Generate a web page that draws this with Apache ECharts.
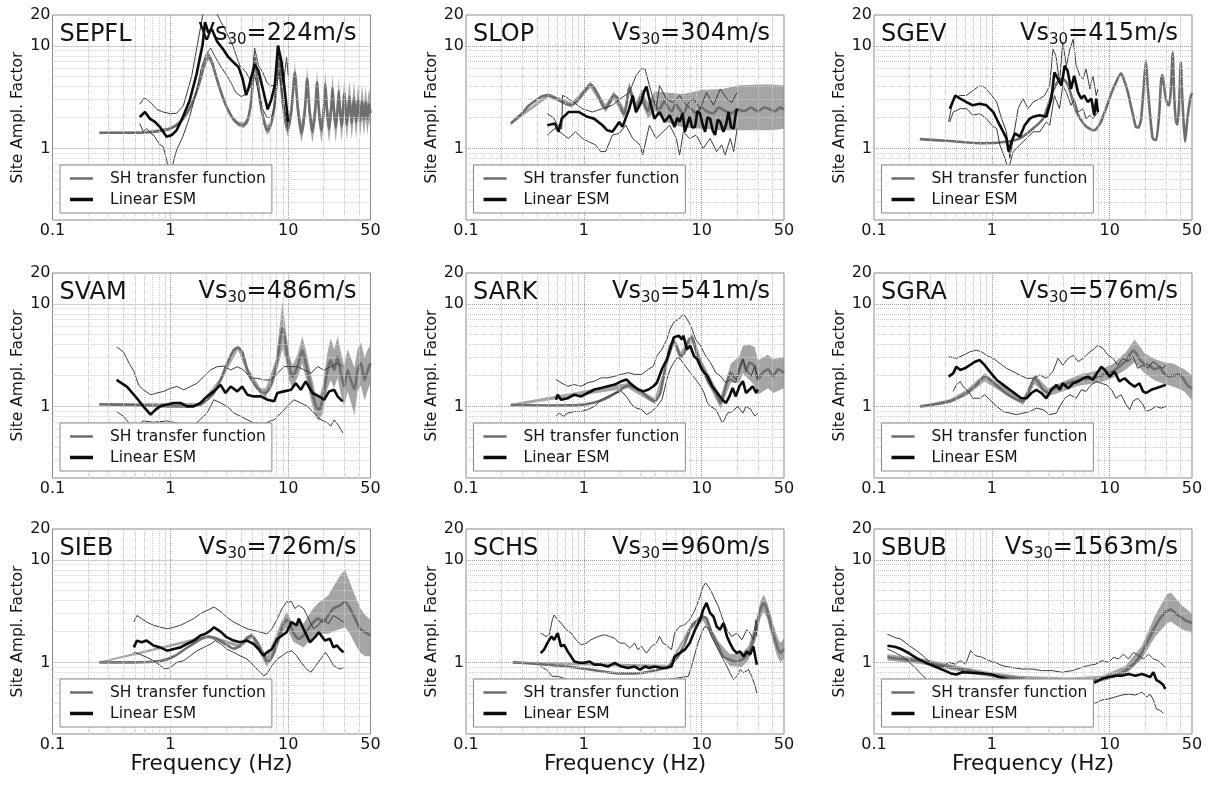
<!DOCTYPE html>
<html>
<head>
<meta charset="utf-8">
<script src="https://cdn.jsdelivr.net/npm/echarts@6.0.0/dist/echarts.min.js"></script>
<style>
  html, body { margin: 0; padding: 0; background: #fff; }
  #chart { width: 1208px; height: 785px; }
</style>
</head>
<body>
<div id="chart"></div>
<script>
// ---- stations and site parameters ----
const stations = ['SEPFL', 'SLOP', 'SGEV', 'SVAM', 'SARK', 'SGRA', 'SIEB', 'SCHS', 'SBUB'];
const vs30 = [224, 304, 415, 486, 541, 576, 726, 960, 1563];
const seriesNames = ['SH transfer function', 'Linear ESM'];

// gridline positions (log decades)
const xMinorGrid = [0.2, 0.3, 0.4, 0.5, 0.6, 0.7, 0.8, 0.9, 2, 3, 4, 5, 6, 7, 8, 9, 20, 30, 40];
const xMajorGrid = [1, 10];
const yMinorGrid = [0.3, 0.4, 0.5, 0.6, 0.7, 0.8, 0.9, 2, 3, 4, 5, 6, 7, 8, 9];
const yMajorGrid = [1, 10];

// ---- SEPFL ----
const sepflSH = [[0.25,1.42],[0.4,1.42],[0.6,1.43],[0.8,1.47],[1.0,1.56],[1.2,1.78],[1.4,2.25],[1.6,3.1],[1.8,4.7],[1.95,6.6],[2.1,8.0],[2.25,7.0],[2.45,5.0],[2.7,3.5],[3.0,2.55],[3.4,1.95],[3.8,1.72],[4.2,1.68],[4.5,1.85],[4.8,2.6],[5.0,4.2],[5.2,7.8],[5.45,5.0],[5.8,2.8],[6.2,1.9],[6.6,1.5],[7.0,1.6],[7.5,2.2],[7.9,3.8],[8.3,7.5],[8.7,4.2],[9.2,2.3],[9.85,1.5],[10.6,2.2],[11.4,5.5],[12.1,2.4],[12.95,1.4],[13.8,2.2],[14.5,4.8],[15.2,2.3],[16.05,1.45],[16.9,2.2],[17.6,4.4],[18.3,2.2],[19.15,1.5],[20.0,2.2],[20.7,4.2],[21.4,2.3],[22.25,1.55],[23.1,2.3],[23.8,3.9],[24.5,2.3],[25.35,1.6],[26.2,2.3],[26.9,3.6],[27.6,2.3],[28.45,1.65],[30,3.4],[31.55,1.7],[33.1,3.2],[34.65,1.75],[36.2,3.1],[37.75,1.8],[39.3,3.0],[40.85,1.85],[42.4,2.9],[43.95,1.9],[45.5,2.8],[47.05,1.95],[48.6,2.7],[50,2.2]];
const sepflBand = [[0.25,1.39,1.45],[0.6,1.4,1.46],[1.0,1.51,1.61],[1.2,1.72,1.85],[1.4,2.15,2.35],[1.6,2.95,3.3],[1.8,4.4,5.0],[1.95,6.1,7.1],[2.1,7.3,8.8],[2.25,6.4,7.6],[2.45,4.6,5.4],[2.7,3.25,3.75],[3.0,2.4,2.7],[3.4,1.85,2.05],[3.8,1.63,1.82],[4.2,1.58,1.8],[4.5,1.72,2.0],[4.8,2.35,2.9],[5.0,3.7,4.8],[5.2,6.6,9.6],[5.45,4.3,5.8],[5.8,2.5,3.2],[6.2,1.72,2.1],[6.6,1.35,1.68],[7.0,1.45,1.78],[7.5,1.95,2.5],[7.9,3.3,4.4],[8.3,6.3,9.0],[8.7,3.6,4.9],[9.2,2.0,2.65],[9.85,1.3,1.75],[10.6,1.8,2.7],[11.4,4.2,7.0],[12.1,1.9,3.0],[12.95,1.12,1.75],[13.8,1.7,2.8],[14.5,3.5,6.3],[15.2,1.8,2.9],[16.05,1.12,1.85],[16.9,1.7,2.8],[17.6,3.2,5.9],[18.3,1.7,2.8],[19.15,1.12,1.95],[20.0,1.65,2.85],[20.7,3.0,5.7],[21.4,1.7,3.0],[22.25,1.12,2.1],[23.1,1.7,3.0],[23.8,2.8,5.3],[24.5,1.7,3.0],[25.35,1.12,2.2],[26.2,1.7,3.0],[26.9,2.5,5.0],[27.6,1.7,3.0],[28.45,1.15,2.3],[30,2.4,4.8],[31.55,1.18,2.4],[33.1,2.25,4.6],[34.65,1.2,2.5],[36.2,2.15,4.5],[37.75,1.25,2.55],[39.3,2.1,4.3],[40.85,1.3,2.6],[42.4,2.0,4.2],[43.95,1.32,2.7],[45.5,1.95,4.0],[47.05,1.35,2.75],[48.6,1.9,3.9],[50,1.5,3.0]];
const sepflESM = [[0.55,2.02],[0.61,2.26],[0.67,1.95],[0.74,1.81],[0.81,1.63],[0.87,1.45],[0.93,1.3],[1.03,1.35],[1.13,1.5],[1.28,2.03],[1.46,2.93],[1.67,5.3],[1.88,10.3],[1.97,17],[2.1,13.5],[2.25,14.5],[2.5,11],[2.8,9.3],[3.1,7.8],[3.4,7.0],[3.8,6.2],[4.1,4.8],[4.4,3.3],[4.65,4.0],[4.9,5.1],[5.2,6.6],[5.6,5.7],[6.1,3.8],[6.7,2.4],[7.2,3.0],[7.7,4.1],[8.2,10],[8.8,6.9],[9.4,3.5],[10,1.8]];
const sepflESMhi = [[0.55,2.7],[0.6,3.1],[0.65,2.95],[0.69,2.75],[0.77,2.4],[0.87,2.26],[1.0,2.18],[1.13,2.2],[1.29,2.6],[1.52,5.1],[1.73,11.6],[1.9,21],[2.1,24],[2.4,22],[2.7,17],[3.0,13.5],[3.4,10],[3.7,7.5],[3.9,6.4],[4.4,5.5],[4.8,4.6],[5.0,5.6],[5.2,9.5],[5.6,6.4],[6.1,5.5],[6.6,4.4],[7.0,4.1],[7.9,4.1],[8.3,10.2],[8.7,5.5],[9.1,4.2],[9.7,7.7],[10.0,5.2]];
const sepflESMlo = [[0.55,1.75],[0.59,1.45],[0.63,1.56],[0.68,1.4],[0.72,1.35],[0.82,1.08],[0.87,1.04],[0.93,0.77],[0.96,0.65],[1.02,0.6],[1.08,0.8],[1.13,0.96],[1.28,1.31],[1.46,2.03],[1.67,3.66],[1.84,6.16],[2.02,8.3],[2.2,9.5],[2.45,7.5],[2.7,6.2],[3.0,5.2],[3.3,4.3],[3.6,3.5],[4.0,3.2],[4.4,3.4],[4.8,4.0],[5.2,5.2],[5.6,3.5],[6.1,2.4],[6.6,2.0],[7.2,2.0],[7.7,2.6],[8.1,4.5],[8.4,5.5],[8.8,3.8],[9.4,2.3],[10,1.6]];

// ---- SLOP ----
const slopSH = [[0.24,1.75],[0.3,2.2],[0.34,2.6],[0.4,3.0],[0.45,3.25],[0.5,3.3],[0.57,3.1],[0.65,2.85],[0.72,2.7],[0.79,2.65],[0.88,2.9],[1.0,3.5],[1.08,4.0],[1.14,4.2],[1.22,3.9],[1.34,3.2],[1.45,2.6],[1.53,2.45],[1.65,2.8],[1.8,3.3],[1.92,3.15],[2.05,2.5],[2.2,2.15],[2.32,2.8],[2.43,4.0],[2.55,3.3],[2.77,2.45],[2.95,2.9],[3.1,3.3],[3.3,2.6],[3.5,2.3],[3.7,2.9],[3.9,3.0],[4.2,2.4],[4.5,2.5],[4.8,2.9],[5.2,2.5],[5.6,2.3],[6.0,2.7],[6.5,2.4],[7.0,2.2],[7.6,2.6],[8.2,2.4],[9.0,2.2],[10,2.5],[11,2.3],[12.5,2.2],[14,2.5],[16,2.3],[18,2.2],[20,2.4],[23,2.3],[26,2.5],[30,2.3],[34,2.5],[38,2.4],[42,2.3],[46,2.5],[50,2.4]];
const slopBand = [[0.24,1.7,1.8],[0.5,3.15,3.45],[0.79,2.5,2.8],[1.14,3.9,4.5],[1.53,2.25,2.7],[1.8,3.0,3.6],[2.2,1.95,2.45],[2.43,3.5,4.5],[2.77,2.15,2.8],[3.1,2.8,3.8],[3.5,1.95,2.8],[4.0,2.3,3.6],[5.0,1.8,3.5],[7,1.6,3.4],[10,1.55,3.7],[15,1.5,3.8],[20,1.5,4.1],[30,1.5,4.2],[40,1.5,4.2],[50,1.55,4.1]];
const slopESM = [[0.49,1.68],[0.57,1.75],[0.61,1.45],[0.65,1.95],[0.74,2.26],[0.91,2.26],[1.07,2.03],[1.22,1.95],[1.44,1.68],[1.58,1.5],[1.75,1.45],[2.0,1.81],[2.13,1.62],[2.43,2.44],[2.6,3.28],[2.77,2.26],[3.06,2.8],[3.25,3.6],[3.4,4.0],[3.6,3.05],[3.97,1.95],[4.4,2.26],[4.85,1.81],[5.35,2.1],[5.9,1.62],[6.2,2.0],[6.5,1.81],[6.9,2.2],[7.2,1.45],[7.9,2.03],[8.3,1.6],[8.8,1.62],[9.2,2.3],[9.7,2.18],[10.2,1.7],[10.7,1.45],[11.2,2.0],[11.8,1.95],[12.4,1.5],[13,1.35],[13.7,1.9],[14.4,1.81],[15.3,1.45],[16.1,1.7],[16.9,2.26],[17.8,1.6],[18.7,1.56],[19.4,2.1],[20,2.44]];
const slopESMhi = [[0.49,2.18],[0.55,2.0],[0.6,1.7],[0.65,1.55],[0.66,3.3],[0.74,3.05],[0.85,2.73],[0.97,2.44],[1.18,2.26],[1.44,2.44],[1.75,2.63],[2.0,3.0],[2.43,3.5],[2.77,5.1],[3.06,5.95],[3.3,6.0],[3.6,4.1],[4.1,2.44],[4.4,4.1],[5.0,3.05],[5.7,2.8],[6.5,3.28],[7.4,2.63],[8.5,3.05],[9.7,2.44],[11,3.5],[12.6,2.63],[14.4,3.8],[16.4,3.05],[18,2.8],[20,3.5]];
const slopESMlo = [[0.49,1.35],[0.57,1.56],[0.65,1.4],[0.74,1.25],[0.85,1.45],[0.97,1.25],[1.1,1.16],[1.26,1.08],[1.39,0.93],[1.53,0.93],[1.75,1.35],[2.0,1.4],[2.27,1.68],[2.6,1.25],[3.0,1.08],[3.16,0.86],[3.6,1.68],[4.1,1.25],[4.7,1.45],[5.35,1.68],[6.1,1.25],[6.5,0.86],[7.0,1.45],[7.9,1.25],[9.0,1.35],[10.3,1.0],[11.8,1.25],[13.4,0.93],[14.8,1.08],[15.8,0.86],[17.5,1.25],[18.7,0.93],[20,1.56]];

// ---- SGEV ----
const sgevSH = [[0.245,1.23],[0.44,1.18],[0.84,1.12],[1.33,1.16],[1.73,1.25],[2.24,1.56],[2.72,1.95],[3.0,2.6],[3.3,3.6],[3.65,4.5],[4.0,4.8],[4.4,4.2],[4.8,3.1],[5.2,2.3],[6.1,1.7],[6.8,1.55],[7.4,1.5],[8.3,1.75],[9.3,2.44],[10.3,3.4],[11,4.1],[12.5,5.4],[13.3,4.6],[14.3,3.5],[15.8,2.1],[16.7,1.62],[17.6,1.6],[18.5,1.95],[19.4,3.8],[20.3,7.2],[21.0,4.2],[21.8,2.44],[23.2,1.25],[24.8,1.2],[26.4,2.26],[27.3,4.5],[28,5.2],[29,4.0],[30,3.05],[31,2.7],[32,2.63],[33,3.6],[34.3,8.6],[35.4,3.05],[36.6,1.81],[37.7,1.7],[39,3.0],[40.2,6.9],[41.2,3.4],[42.3,1.9],[43.7,1.16],[45.7,1.95],[47.5,2.7],[49.4,3.4],[50,3.3]];
const sgevBand = [];
const sgevESM = [[0.44,2.44],[0.49,3.28],[0.54,3.05],[0.61,2.83],[0.69,2.63],[0.79,2.73],[0.9,2.63],[1.03,2.26],[1.13,1.81],[1.25,1.45],[1.33,1.25],[1.39,0.93],[1.47,1.16],[1.57,1.4],[1.73,1.3],[1.9,1.68],[2.1,1.95],[2.24,2.03],[2.55,2.1],[2.9,2.03],[3.2,3.05],[3.4,5.5],[3.65,4.75],[3.9,4.1],[4.15,6.4],[4.4,5.7],[4.7,3.8],[5.0,5.1],[5.4,3.5],[5.75,3.05],[6.1,3.28],[6.5,2.83],[7.0,3.05],[7.4,2.1],[7.7,3.05],[7.95,2.26]];
const sgevESMhi = [[0.43,1.81],[0.47,3.05],[0.54,3.28],[0.61,3.28],[0.69,3.66],[0.79,4.1],[0.87,3.95],[1.0,3.28],[1.1,2.83],[1.21,1.95],[1.33,1.45],[1.42,0.8],[1.52,1.25],[1.67,2.44],[1.84,3.05],[2.03,2.44],[2.24,2.83],[2.55,3.05],[2.81,3.28],[3.1,4.1],[3.3,9.3],[3.5,8.0],[3.75,4.4],[4.0,10.8],[4.3,6.4],[4.6,9.3],[4.9,11.6],[5.2,6.4],[5.6,5.1],[5.95,4.75],[6.3,5.95],[6.8,3.8],[7.2,5.1],[7.7,3.28],[7.95,3.8]];
const sgevESMlo = [[0.44,1.81],[0.47,2.26],[0.54,2.44],[0.61,2.44],[0.69,2.1],[0.79,2.18],[0.9,1.95],[1.0,1.68],[1.1,1.56],[1.17,1.08],[1.29,0.8],[1.38,0.62],[1.52,0.93],[1.73,1.08],[1.97,1.25],[2.24,1.45],[2.55,1.45],[2.9,1.81],[3.1,1.68],[3.4,3.28],[3.75,2.44],[4.0,4.1],[4.3,3.5],[4.7,2.63],[5.0,3.05],[5.4,2.26],[5.95,2.44],[6.3,1.95],[6.8,2.1],[7.2,1.95],[7.95,2.26]];

// ---- SVAM ----
const svamSH = [[0.25,1.05],[0.49,1.03],[0.94,1.0],[1.39,1.0],[1.8,1.04],[2.05,1.16],[2.34,1.35],[2.67,1.81],[3.04,2.63],[3.46,3.55],[3.75,3.75],[4.08,3.4],[4.5,2.26],[5.1,1.68],[5.85,1.4],[6.45,1.35],[7.1,1.56],[7.9,2.44],[8.4,3.8],[8.95,5.95],[9.5,4.1],[10.2,2.44],[10.9,1.95],[12,2.44],[13.2,3.55],[14.1,2.63],[15.6,1.56],[17.2,1.0],[18.3,0.93],[19.6,1.16],[21.6,2.26],[23,2.83],[24.6,2.26],[26.3,3.05],[28,2.1],[29.9,1.56],[32,2.26],[34,1.81],[36.6,1.45],[38.8,2.26],[41.5,2.63],[44.5,1.81],[47.5,2.26],[50,2.63]];
const svamBand = [[0.25,1.02,1.08],[1.8,1.0,1.08],[2.67,1.72,1.9],[3.75,3.55,3.95],[4.5,2.1,2.42],[5.85,1.3,1.5],[6.45,1.22,1.5],[7.9,2.1,2.9],[8.95,3.6,10.5],[9.5,2.9,5.8],[10.2,1.8,3.2],[10.9,1.5,2.5],[12,1.9,3.2],[13.2,2.6,4.8],[14.1,1.9,3.6],[15.6,1.15,2.1],[17.2,0.78,1.3],[18.3,0.72,1.2],[19.6,0.85,1.6],[21.6,1.5,3.4],[23,1.8,4.6],[24.6,1.5,3.6],[26.3,1.9,4.8],[28,1.3,3.4],[29.9,1.0,2.5],[32,1.4,3.6],[34,1.1,3.0],[36.6,0.82,2.4],[38.8,1.4,3.6],[41.5,1.6,4.2],[44.5,1.15,3.0],[47.5,1.45,3.6],[50,1.7,4.0]];
const svamESM = [[0.35,1.81],[0.43,1.55],[0.52,1.2],[0.59,1.0],[0.68,0.83],[0.75,0.93],[0.82,1.0],[0.94,1.04],[1.07,1.08],[1.22,1.08],[1.39,1.0],[1.58,1.0],[1.8,1.08],[2.05,1.25],[2.34,1.4],[2.67,1.62],[2.94,1.35],[3.25,1.56],[3.7,1.4],[4.08,1.56],[4.5,1.3],[5.1,1.25],[5.85,1.25],[6.7,1.16],[7.6,1.12],[8.1,1.35],[9.2,1.4],[10.6,1.45],[11.6,1.68],[12.8,1.45],[14.1,1.75],[16.1,1.35],[18.3,1.25],[20.2,1.16],[22.3,1.4],[24.6,1.45],[26.3,1.25],[29,1.12]];
const svamESMhi = [[0.35,3.8],[0.4,3.4],[0.45,2.6],[0.49,2.2],[0.54,1.6],[0.59,1.45],[0.68,1.3],[0.77,1.35],[0.88,1.4],[1.0,1.5],[1.14,1.56],[1.3,1.45],[1.48,1.56],[1.69,1.68],[1.92,1.95],[2.19,2.26],[2.5,2.44],[2.85,2.47],[3.25,2.26],[3.7,2.44],[4.2,2.26],[4.8,1.88],[5.5,1.88],[6.2,1.81],[7.1,1.81],[8.1,2.1],[9.2,2.44],[10.6,2.44],[12,2.44],[13.7,2.26],[15.6,2.1],[17.8,2.44],[20.2,2.26],[23,2.44],[26.3,2.63],[29,2.44]];
const svamESMlo = [[0.35,0.89],[0.4,0.8],[0.44,0.7],[0.5,0.62],[0.59,0.72],[0.72,0.7],[0.94,0.72],[1.2,0.68],[1.6,0.66],[2.05,0.86],[2.34,1.16],[2.67,1.08],[3.04,1.0],[3.46,0.86],[3.95,0.8],[4.5,0.74],[5.1,0.69],[6.2,0.68],[7.6,0.74],[8.7,0.86],[9.85,1.0],[11.2,1.16],[12.8,1.08],[14.6,1.0],[16.6,0.86],[19,0.74],[21.6,0.69],[23,0.64],[24.6,0.74],[27,0.64],[29,0.55]];

// ---- SARK ----
const sarkSH = [[0.24,1.03],[0.53,1.02],[1.0,1.04],[1.4,1.14],[1.83,1.33],[2.23,1.55],[2.38,1.6],[2.7,1.52],[3.1,1.38],[3.6,1.2],[4.0,1.12],[4.45,1.35],[4.9,2.3],[5.4,3.9],[5.8,4.35],[6.2,3.75],[6.6,3.1],[7.0,3.2],[7.3,3.6],[7.8,4.5],[8.3,4.7],[8.8,3.8],[9.3,3.0],[10,2.47],[11.5,1.7],[13.2,1.35],[14.5,1.08],[16,1.57],[17.7,2.13],[19.5,1.83],[20.9,2.3],[22.4,2.9],[23.8,2.2],[25.5,2.67],[28.2,2.47],[30,1.83],[33,2.13],[36.6,2.3],[40.4,1.97],[44.5,2.3],[50,2.13]];
const sarkBand = [[0.24,1.0,1.06],[2.38,1.5,1.7],[4.0,1.05,1.2],[5.8,4.0,4.7],[6.6,2.8,3.4],[8.3,4.2,5.2],[10,2.2,2.8],[14.5,0.95,1.25],[17.7,1.7,2.6],[20.9,1.7,3.1],[22.4,2.1,3.9],[25.5,1.8,4.0],[28.2,1.6,3.8],[30,1.3,2.8],[36.6,1.5,3.2],[40.4,1.35,2.9],[50,1.5,3.0]];
const sarkESM = [[0.58,1.16],[0.6,1.3],[0.64,1.16],[0.73,1.2],[0.83,1.3],[0.95,1.25],[1.08,1.35],[1.23,1.46],[1.4,1.51],[1.6,1.57],[1.83,1.63],[2.09,1.76],[2.3,1.83],[2.55,1.63],[2.9,1.46],[3.2,1.4],[3.54,1.46],[3.9,1.57],[4.17,1.7],[4.6,2.3],[5.07,2.87],[5.4,3.6],[5.8,4.7],[6.4,4.9],[6.8,4.5],[7.0,4.9],[7.5,3.6],[8.0,3.9],[8.6,3.1],[9.2,2.87],[10,2.3],[11.2,1.97],[12.3,1.57],[13.6,1.35],[15,1.16],[16.1,1.08],[17.2,1.25],[18.3,1.51],[19.5,1.25],[20.9,1.57],[22.4,1.76],[23.8,1.35],[25.5,1.46],[27.2,1.57],[29,1.35],[30,1.46]];
const sarkESMhi = [[0.58,1.83],[0.64,1.7],[0.73,1.57],[0.83,1.63],[0.95,1.57],[1.08,1.7],[1.23,1.76],[1.4,1.9],[1.6,1.9],[1.83,1.97],[2.09,2.05],[2.38,2.13],[2.7,2.05],[3.1,2.05],[3.54,2.3],[3.9,2.47],[4.17,3.1],[4.6,3.6],[5.07,4.5],[5.4,5.67],[5.8,6.6],[6.4,7.1],[6.8,7.7],[7.2,7.7],[7.8,6.6],[8.3,5.67],[8.9,4.5],[9.8,3.9],[10.8,3.1],[11.9,2.67],[13.2,2.13],[14.5,1.97],[16,1.7],[17.7,1.83],[19.5,1.7],[20.9,2.3],[22.4,2.87],[23.8,2.3],[26.3,1.97],[28.2,2.47],[30,1.83]];
const sarkESMlo = [[0.58,0.8],[0.62,0.86],[0.67,0.8],[0.73,0.86],[0.83,0.89],[0.95,0.89],[1.08,0.93],[1.23,1.0],[1.4,1.16],[1.6,1.25],[1.83,1.35],[2.09,1.4],[2.3,1.25],[2.55,1.04],[2.8,0.96],[3.1,0.93],[3.4,0.83],[3.78,0.89],[4.17,1.0],[4.6,1.16],[5.07,1.83],[5.4,2.3],[5.8,2.67],[6.2,3.0],[6.6,2.87],[7.3,2.47],[8.0,2.13],[8.9,1.83],[9.8,1.57],[10.5,1.35],[11.2,1.08],[11.9,1.0],[13.2,0.93],[14.1,0.8],[15,0.69],[15.6,0.74],[16.6,0.86],[18.3,0.89],[20.2,1.0],[22.4,0.86],[23.8,1.0],[26.3,0.93],[28.2,0.8],[30,0.86]];

// ---- SGRA ----
const sgraSH = [[0.245,1.0],[0.32,1.04],[0.44,1.12],[0.61,1.35],[0.74,1.62],[0.87,1.95],[0.95,1.85],[1.1,1.6],[1.33,1.33],[1.62,1.17],[1.84,1.12],[2.03,1.35],[2.31,1.88],[2.5,1.7],[2.72,1.45],[3.0,1.38],[3.42,1.5],[4.0,1.6],[4.6,1.72],[5.55,1.8],[6.8,1.88],[8.2,1.95],[9.4,2.1],[10.7,2.2],[12.1,2.45],[13.8,2.8],[15.8,3.5],[16.8,3.3],[17.9,2.9],[19.8,2.6],[21.8,2.5],[24,2.3],[26.4,2.4],[29,2.1],[31.9,1.95],[35,2.0],[38.9,2.05],[43,1.8],[45.7,1.6],[50,1.5]];
const sgraBand = [[0.245,0.98,1.02],[0.44,1.08,1.17],[0.61,1.27,1.45],[0.87,1.75,2.1],[1.1,1.48,1.7],[1.84,1.03,1.2],[2.31,1.65,2.05],[3.0,1.25,1.5],[5.55,1.6,2.05],[8.2,1.7,2.25],[10.7,1.9,2.6],[13.8,2.3,3.4],[16.3,2.7,4.5],[19.8,2.1,3.3],[24,1.8,2.9],[29,1.65,2.7],[35,1.55,2.6],[43,1.4,2.3],[50,1.15,2.0]];
const sgraESM = [[0.43,1.95],[0.47,2.1],[0.5,2.44],[0.54,2.26],[0.59,2.35],[0.65,2.52],[0.72,2.73],[0.79,2.83],[0.87,2.52],[0.96,2.18],[1.1,1.81],[1.25,1.62],[1.42,1.45],[1.62,1.3],[1.78,1.2],[1.97,1.2],[2.17,1.35],[2.39,1.45],[2.63,1.35],[2.9,1.2],[3.2,1.45],[3.53,1.62],[3.77,1.45],[4.0,1.68],[4.44,1.5],[4.9,1.68],[5.4,1.75],[5.95,1.88],[6.55,1.95],[7.2,1.81],[7.95,2.18],[8.5,2.44],[9.1,2.26],[10,1.95],[11,2.18],[12.1,1.75],[13.4,1.88],[14.8,1.68],[16.3,1.56],[17.9,1.68],[19.2,1.4],[20.4,1.35],[22.5,1.45],[24.7,1.5],[27.3,1.56],[30,1.62]];
const sgraESMhi = [[0.43,3.05],[0.5,2.94],[0.57,3.15],[0.65,3.4],[0.74,3.53],[0.82,3.4],[0.9,3.15],[1.03,2.94],[1.17,2.62],[1.33,2.35],[1.52,2.18],[1.73,2.02],[1.97,1.88],[2.24,1.88],[2.55,2.02],[2.9,1.88],[3.3,2.18],[3.65,2.94],[4.0,2.52],[4.44,2.94],[4.9,3.15],[5.4,2.73],[5.95,2.94],[6.8,3.4],[7.45,3.66],[7.95,3.95],[8.8,3.66],[9.7,3.15],[10.7,2.94],[11.7,2.52],[13,2.94],[14.3,2.73],[15.8,3.05],[17.3,2.35],[19.2,2.52],[21.1,2.35],[23.3,2.73],[25.6,2.52],[28.2,2.35],[30,2.52]];
const sgraESMlo = [[0.47,1.4],[0.5,1.62],[0.54,1.75],[0.57,1.56],[0.63,1.4],[0.69,1.2],[0.79,1.2],[0.87,1.3],[0.96,1.16],[1.1,1.0],[1.25,0.89],[1.42,0.86],[1.62,0.83],[1.84,0.86],[2.1,0.89],[2.39,0.96],[2.72,0.93],[3.1,0.83],[3.53,0.86],[3.77,1.0],[4.15,1.2],[4.6,1.3],[5.2,1.2],[5.75,1.45],[6.3,1.4],[6.95,1.62],[7.7,1.75],[8.5,1.68],[9.4,1.62],[10.4,1.45],[11.3,1.2],[12.5,1.3],[13.8,1.04],[14.8,0.93],[15.8,1.12],[17.3,1.2],[19.2,1.04],[20.4,0.89],[22.5,0.93],[24.7,1.0],[27.3,0.96],[30,1.0]];

// ---- SIEB ----
const siebSH = [[0.25,1.0],[0.49,1.0],[0.82,1.03],[1.07,1.14],[1.38,1.38],[1.8,1.68],[2.1,1.78],[2.5,1.7],[3.0,1.48],[3.45,1.36],[3.9,1.44],[4.47,1.74],[4.9,1.82],[5.4,1.6],[6.2,1.2],[6.6,1.02],[7.0,1.04],[7.8,1.35],[8.8,2.1],[9.1,2.35],[9.7,2.6],[10.3,2.45],[11,1.97],[12.2,1.7],[13.5,1.83],[14.9,2.13],[16.4,2.47],[18,2.67],[19.9,2.47],[21.9,2.87],[24.2,3.35],[27.5,3.6],[30.4,3.9],[33.5,3.35],[37,2.67],[40.8,2.13],[45,1.97],[50,1.83]];
const siebBand = [[0.25,0.98,1.02],[2.1,1.72,1.85],[3.9,1.38,1.5],[4.9,1.72,1.95],[6.6,0.9,1.15],[8.8,1.8,2.5],[9.7,2.2,3.1],[11,1.6,2.4],[13.5,1.4,2.4],[16.4,1.8,3.4],[18,1.9,3.8],[21.9,1.9,4.5],[24.2,2.0,5.5],[27.5,2.1,7.0],[30.4,2.2,8.0],[33.5,1.9,6.0],[37,1.5,4.5],[40.8,1.25,3.4],[45,1.15,2.9],[50,1.15,2.6]];
const siebESM = [[0.49,1.4],[0.52,1.63],[0.57,1.57],[0.63,1.63],[0.72,1.46],[0.82,1.4],[0.94,1.3],[1.07,1.35],[1.22,1.4],[1.38,1.51],[1.58,1.63],[1.8,1.83],[1.99,1.9],[2.2,2.05],[2.35,2.2],[2.7,1.97],[3.0,1.76],[3.45,1.63],[3.9,1.57],[4.47,1.63],[5.1,1.51],[5.6,1.35],[6.2,1.16],[6.6,1.25],[7.3,1.35],[8.1,1.7],[8.9,1.83],[9.7,1.97],[10.7,2.47],[11.8,2.3],[12.3,2.67],[13.9,1.97],[15.3,1.57],[16.9,1.76],[18.2,1.97],[20.5,1.63],[22.6,1.7],[24.2,1.4],[25.9,1.46],[27.5,1.35],[29.5,1.25]];
const siebESMhi = [[0.49,2.47],[0.52,2.87],[0.57,2.67],[0.63,2.47],[0.72,2.3],[0.82,2.2],[0.94,2.13],[1.07,2.2],[1.22,2.3],[1.38,2.47],[1.58,2.67],[1.8,2.99],[2.04,3.2],[2.35,3.47],[2.7,3.1],[3.0,2.77],[3.45,2.47],[3.9,2.3],[4.47,2.13],[5.1,2.05],[5.8,1.97],[6.6,1.9],[7.3,2.13],[8.1,2.67],[8.9,3.35],[9.7,3.9],[10.7,3.9],[11.4,3.35],[12.2,3.6],[13.5,3.35],[14.9,2.67],[16.4,2.13],[18,2.3],[19.9,2.67],[21.9,2.38],[24.2,2.87],[26.7,2.67],[29.5,2.47]];
const siebESMlo = [[0.49,1.25],[0.55,1.2],[0.63,1.12],[0.72,1.04],[0.82,0.93],[0.9,0.86],[1.0,0.89],[1.14,1.0],[1.3,1.04],[1.48,1.16],[1.69,1.3],[1.92,1.4],[2.2,1.51],[2.4,1.63],[2.7,1.51],[3.0,1.35],[3.45,1.25],[3.9,1.16],[4.47,1.08],[5.1,0.93],[5.6,0.83],[6.2,0.74],[6.6,0.77],[7.3,0.93],[8.1,1.08],[8.9,1.16],[9.7,1.25],[10.7,1.3],[11.8,1.16],[12.9,1.0],[14.3,0.86],[15.6,0.8],[17.2,0.93],[18.9,1.08],[20.8,1.25],[22.6,1.08],[24.2,0.93],[25.9,0.89],[27.5,0.86],[29.5,0.89]];

// ---- SCHS ----
const schsSH = [[0.25,1.0],[0.38,0.97],[0.73,0.91],[1.4,0.82],[1.95,0.78],[2.7,0.78],[3.75,0.82],[5.2,0.91],[6.3,1.14],[7.2,1.54],[8.2,2.24],[9.3,2.6],[10.3,2.76],[11.0,2.7],[12.2,1.93],[13.9,1.43],[15.3,1.14],[17.4,1.06],[19.2,1.02],[21.9,1.06],[25,1.23],[28.5,1.93],[31.5,3.26],[33.6,3.8],[35.9,3.26],[39.6,2.08],[43.7,1.43],[46.5,1.23],[50,1.35]];
const schsBand = [[0.25,0.98,1.02],[5.2,0.88,0.95],[8.2,2.1,2.4],[10.3,2.55,3.0],[13.9,1.3,1.6],[17.4,0.92,1.2],[21.9,0.9,1.22],[25,1.05,1.45],[28.5,1.6,2.35],[31.5,2.7,3.9],[33.6,3.1,4.6],[35.9,2.7,3.9],[39.6,1.7,2.6],[43.7,1.15,1.8],[46.5,1.0,1.55],[50,1.08,1.7]];
const schsESM = [[0.43,1.23],[0.46,1.33],[0.49,1.54],[0.53,1.79],[0.56,1.66],[0.6,1.93],[0.64,1.43],[0.68,1.48],[0.73,1.28],[0.78,1.14],[0.83,1.02],[0.92,0.99],[1.01,0.99],[1.12,1.02],[1.23,0.95],[1.4,0.95],[1.6,0.91],[1.83,0.99],[2.08,0.91],[2.37,0.88],[2.7,0.91],[3.0,0.85],[3.3,0.91],[3.6,0.88],[4.0,0.91],[4.55,0.88],[5.0,0.88],[5.55,0.91],[5.9,1.14],[6.5,1.23],[7.2,1.33],[7.9,1.54],[8.8,2.08],[9.7,2.6],[10.3,3.26],[11,3.8],[11.8,3.02],[12.6,2.8],[13.4,2.24],[14.3,2.08],[15.3,2.42],[16.4,1.79],[17.4,1.54],[18.6,1.33],[19.9,1.23],[21.2,1.28],[22.7,1.14],[24.2,1.28],[25.8,1.19],[27.5,1.43],[28.5,1.14],[29.4,0.95]];
const schsESMhi = [[0.43,1.93],[0.48,1.79],[0.51,1.86],[0.54,2.6],[0.56,2.9],[0.6,2.6],[0.64,2.42],[0.71,2.08],[0.78,1.93],[0.86,1.66],[0.95,1.48],[1.05,1.54],[1.15,1.66],[1.32,1.79],[1.5,1.86],[1.65,1.79],[1.83,1.72],[2.0,1.54],[2.22,1.54],[2.45,1.38],[2.7,1.54],[2.88,1.33],[3.08,1.43],[3.4,1.23],[3.75,1.43],[4.13,1.54],[4.4,1.79],[4.7,1.54],[5.0,1.48],[5.55,1.33],[5.9,1.93],[6.5,2.24],[7.2,2.33],[7.9,2.6],[8.8,3.26],[9.7,4.4],[10.3,5.5],[10.8,5.95],[11.4,5.5],[12.1,4.9],[13,4.08],[13.9,3.5],[14.8,2.8],[16.4,2.08],[18.0,1.79],[19.9,1.93],[21.9,1.66],[24.2,2.08],[25.8,1.93],[27.5,1.66],[28.8,2.6],[29.4,1.79]];
const schsESMlo = [[0.43,0.91],[0.48,0.85],[0.51,0.79],[0.54,0.73],[0.6,0.73],[0.8,0.66],[1.2,0.62],[2.0,0.6],[3.0,0.62],[4.5,0.66],[6.0,0.7],[7.7,0.73],[8.2,0.91],[8.8,1.23],[9.3,1.54],[10,1.93],[10.6,2.24],[11.4,2.16],[12.1,1.79],[13.4,1.43],[14.3,1.23],[15.3,1.06],[16.4,0.91],[17.4,0.79],[18.6,0.68],[19.9,0.73],[21.2,0.85],[22.7,0.79],[25,0.85],[26.6,0.73],[28.5,0.58],[29.4,0.5]];

// ---- SBUB ----
const sbubSH = [[0.13,1.12],[0.17,1.08],[0.24,1.04],[0.33,0.96],[0.46,0.89],[0.64,0.83],[0.88,0.77],[1.22,0.73],[1.69,0.7],[2.34,0.68],[3.25,0.67],[4.5,0.67],[6.2,0.67],[8.6,0.69],[11.2,0.74],[13.6,0.83],[16.5,1.0],[18.8,1.25],[21.4,1.68],[24.4,2.26],[27.8,2.83],[30.6,3.16],[33,3.28],[37.2,2.94],[41,2.73],[45,2.53],[50,2.44]];
const sbubBand = [[0.13,1.04,1.2],[0.24,0.97,1.11],[0.46,0.84,0.95],[0.88,0.73,0.82],[1.69,0.66,0.74],[4.5,0.63,0.71],[8.6,0.65,0.74],[13.6,0.76,0.92],[18.8,1.08,1.45],[24.4,1.8,2.9],[30.6,2.4,4.6],[33,2.5,4.8],[41,2.1,3.6],[50,1.95,3.0]];
const sbubESM = [[0.13,1.45],[0.15,1.42],[0.17,1.35],[0.2,1.22],[0.23,1.1],[0.27,1.0],[0.32,0.92],[0.38,0.85],[0.45,0.78],[0.5,0.76],[0.56,0.8],[0.7,0.79],[0.85,0.78],[1.0,0.76],[1.15,0.72],[1.4,0.68],[2.5,0.66],[4,0.64],[6,0.63],[7.6,0.64],[8.6,0.69],[9.8,0.72],[11.2,0.74],[12.7,0.74],[14.5,0.77],[16.5,0.74],[18.8,0.77],[20.7,0.74],[22.1,0.72],[23.5,0.8],[25,0.67],[26.8,0.64],[28.6,0.6],[29.6,0.55]];
const sbubESMhi = [[0.13,1.88],[0.15,1.75],[0.17,1.68],[0.2,1.45],[0.23,1.3],[0.26,1.16],[0.29,1.04],[0.33,0.93],[0.38,0.89],[0.43,1.0],[0.49,0.96],[0.54,1.04],[0.6,0.96],[0.66,1.3],[0.73,1.16],[0.83,1.12],[0.94,1.04],[1.07,1.0],[1.22,0.93],[1.49,0.89],[1.8,0.86],[2.2,0.86],[2.67,0.83],[3.25,0.83],[3.94,0.8],[4.79,0.83],[5.8,0.89],[6.6,0.93],[7.6,0.96],[8.6,1.04],[9.8,1.0],[10.8,1.12],[11.9,1.08],[13.1,1.2],[14.5,1.08],[15.9,1.25],[17.6,1.16],[19.4,1.08],[21.4,1.2],[23.5,1.08],[25.9,1.04],[28.6,0.93],[29.6,0.89]];
const sbubESMlo = [[0.13,1.35],[0.15,1.25],[0.17,1.16],[0.2,1.0],[0.23,0.86],[0.26,0.74],[0.29,0.66],[0.35,0.58],[0.5,0.55],[0.8,0.5],[1.5,0.46],[3,0.44],[5,0.42],[7.6,0.4],[8.6,0.43],[9.8,0.44],[11.2,0.46],[12.7,0.48],[14.5,0.49],[16.5,0.48],[18.8,0.51],[20.7,0.46],[22.1,0.49],[23.5,0.43],[25,0.35],[26.8,0.34],[28.6,0.32]];

// per-panel bundles: [SH curve, SH band, ESM, ESM upper, ESM lower]
const panelData = [
  [sepflSH, sepflBand, sepflESM, sepflESMhi, sepflESMlo],
  [slopSH, slopBand, slopESM, slopESMhi, slopESMlo],
  [sgevSH, sgevBand, sgevESM, sgevESMhi, sgevESMlo],
  [svamSH, svamBand, svamESM, svamESMhi, svamESMlo],
  [sarkSH, sarkBand, sarkESM, sarkESMhi, sarkESMlo],
  [sgraSH, sgraBand, sgraESM, sgraESMhi, sgraESMlo],
  [siebSH, siebBand, siebESM, siebESMhi, siebESMlo],
  [schsSH, schsBand, schsESM, schsESMhi, schsESMlo],
  [sbubSH, sbubBand, sbubESM, sbubESMhi, sbubESMlo]
];

// ---- layout ----
const W_CHART = 1208;
const colLeft = [52.5, 466, 874];
const rowTop = [15, 273, 529];
const plotW = 318, plotH = 205;
const FONT = 'DejaVu Sans';
const TXT = '#141414';

const SH_COLOR = '#6e6e6e';
const BAND_COLOR = 'rgba(140,140,140,0.78)';
const ESM_COLOR = '#0c0c0c';
const THIN_COLOR = '#3a3a3a';

// legend swatches: flat bars drawn at the legend item width
const SH_ICON = 'path://M0,0H92V10H0Z';
const ESM_ICON = 'path://M0,0H92V14H0Z';

// polygon between the lower and upper band limits, built from all rows at once
function bandItem(params, api) {
  if (params.dataIndexInside !== 0) return null;
  const n = params.dataInsideLength;
  const upper = [], lower = [];
  for (let k = 0; k < n; k++) {
    const f = api.value(0, k);
    upper.push(api.coord([f, api.value(2, k)]));
    lower.push(api.coord([f, api.value(1, k)]));
  }
  return {
    type: 'polygon',
    shape: { points: upper.concat(lower.reverse()) },
    style: { fill: BAND_COLOR, stroke: null },
    silent: true
  };
}

const grids = [], xAxes = [], yAxes = [], series = [], titles = [], legends = [];

panelData.forEach((p, i) => {
  const c = i % 3, r = Math.floor(i / 3);
  const left = colLeft[c], top = rowTop[r];
  const [sh, band, esm, esmHi, esmLo] = p;

  grids.push({
    left: left, top: top, width: plotW, height: plotH,
    show: true, borderColor: '#8a8a8a', borderWidth: 1, backgroundColor: '#fff',
    containLabel: false, outerBoundsMode: 'none'
  });

  xAxes.push({
    type: 'log', logBase: 10, gridIndex: i, min: 0.1, max: 50,
    axisLine: { show: false }, axisTick: { show: false }, splitLine: { show: false },
    axisLabel: { fontSize: 16, color: TXT, margin: 3, fontFamily: FONT, showMinLabel: true, showMaxLabel: true },
    name: r === 2 ? 'Frequency (Hz)' : '',
    nameLocation: 'middle', nameGap: 19,
    nameTextStyle: { fontSize: 21.5, color: TXT, fontFamily: FONT }
  });

  yAxes.push({
    type: 'log', logBase: 10, gridIndex: i, min: 0.2, max: 20,
    axisLine: { show: false }, axisTick: { show: false }, splitLine: { show: false },
    axisLabel: { fontSize: 16, color: TXT, margin: 2, fontFamily: FONT, showMinLabel: false, showMaxLabel: true },
    name: 'Site Ampl. Factor', nameLocation: 'middle', nameGap: 24,
    nameTextStyle: { fontSize: 15.5, color: TXT, fontFamily: FONT }
  });

  const gridLineData = []
    .concat(xMinorGrid.map(v => ({ xAxis: v })))
    .concat(xMajorGrid.map(v => ({ xAxis: v, lineStyle: { color: '#9c9c9c' } })))
    .concat(yMinorGrid.map(v => ({ yAxis: v })))
    .concat(yMajorGrid.map(v => ({ yAxis: v, lineStyle: { color: '#9c9c9c' } })));

  series.push({
    type: 'line', xAxisIndex: i, yAxisIndex: i, data: [], symbol: 'none', silent: true, z: 1,
    markLine: {
      silent: true, symbol: ['none', 'none'], animation: false,
      label: { show: false },
      lineStyle: { type: 'dotted', color: '#cdcdcd', width: 1 },
      emphasis: { disabled: true },
      data: gridLineData
    }
  });

  if (band.length) {
    series.push({
      type: 'custom', xAxisIndex: i, yAxisIndex: i, data: band,
      dimensions: ['f', 'lo', 'hi'], encode: { x: 0, y: [1, 2] },
      renderItem: bandItem, silent: true, z: 2
    });
  }

  series.push({
    type: 'line', name: seriesNames[0], xAxisIndex: i, yAxisIndex: i, data: sh,
    symbol: 'none', smooth: 0.2, z: 3,
    lineStyle: { color: SH_COLOR, width: 2.6 }, itemStyle: { color: SH_COLOR },
    emphasis: { disabled: true }
  });

  [esmHi, esmLo].forEach((d, k) => {
    series.push({
      type: 'line', name: k === 0 ? 'ESM +1σ' : 'ESM −1σ', xAxisIndex: i, yAxisIndex: i, data: d,
      symbol: 'none', z: 4,
      lineStyle: { color: THIN_COLOR, width: 1 }, itemStyle: { color: THIN_COLOR },
      emphasis: { disabled: true }
    });
  });

  series.push({
    type: 'line', name: seriesNames[1], xAxisIndex: i, yAxisIndex: i, data: esm,
    symbol: 'none', z: 5,
    lineStyle: { color: ESM_COLOR, width: 2.6 }, itemStyle: { color: ESM_COLOR },
    emphasis: { disabled: true }
  });

  titles.push({
    text: stations[i], left: left + 7, top: top + 8, padding: 0, z: 8,
    textStyle: { fontSize: 24, fontWeight: 'normal', color: TXT, fontFamily: FONT, lineHeight: 24 }
  });
  titles.push({
    text: '{a|Vs}{b|30}{a|=' + vs30[i] + 'm/s}',
    right: W_CHART - (left + plotW - 14), top: top + 7, padding: 0, z: 8,
    textStyle: {
      fontFamily: FONT, fontWeight: 'normal',
      rich: {
        a: { fontSize: 24, lineHeight: 26, verticalAlign: 'top', color: TXT, fontFamily: FONT, fontWeight: 'normal' },
        b: { fontSize: 15, lineHeight: 6, verticalAlign: 'bottom', color: TXT, fontFamily: FONT, fontWeight: 'normal' }
      }
    }
  });

  legends.push({
    data: [
      { name: seriesNames[0], icon: SH_ICON, itemStyle: { color: SH_COLOR, borderWidth: 0 } },
      { name: seriesNames[1], icon: ESM_ICON, itemStyle: { color: ESM_COLOR, borderWidth: 0 } }
    ],
    orient: 'vertical',
    left: left + 7.5, top: top + plotH - 7 - 48,
    itemWidth: 23, itemHeight: 17, itemGap: 4,
    symbolKeepAspect: true,
    padding: [5, 6, 5, 10],
    backgroundColor: '#fff', borderColor: '#8a8a8a', borderWidth: 1, borderRadius: 0,
    selectedMode: false, z: 7,
    textStyle: { fontSize: 15.5, color: TXT, fontFamily: FONT, lineHeight: 17, padding: [0, 0, 0, 12] }
  });
});

const chart = echarts.init(document.getElementById('chart'), null, { renderer: 'canvas' });
chart.setOption({
  backgroundColor: '#fff',
  animation: false,
  textStyle: { fontFamily: FONT },
  title: titles,
  legend: legends,
  grid: grids,
  xAxis: xAxes,
  yAxis: yAxes,
  series: series
});
</script>
</body>
</html>
